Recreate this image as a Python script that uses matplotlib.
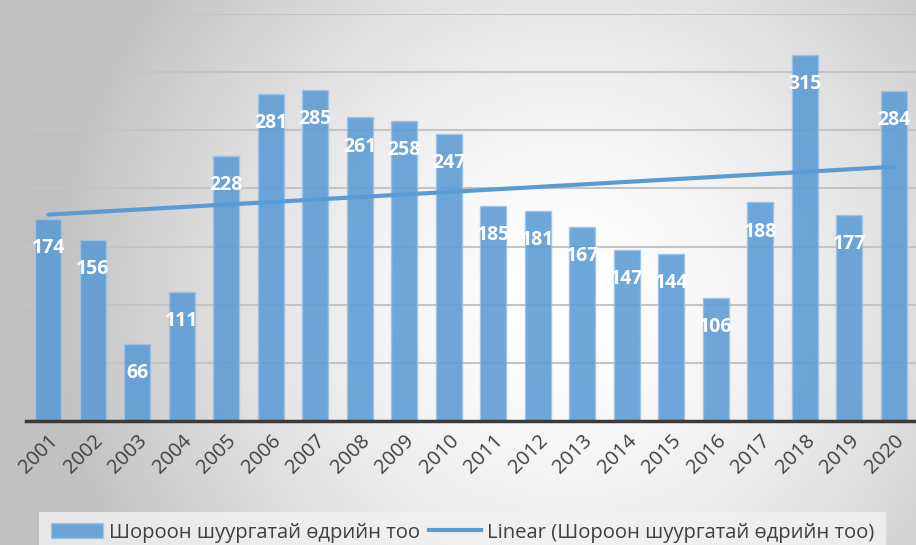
import numpy as np
import matplotlib
matplotlib.use("Agg")
import matplotlib.pyplot as plt
from matplotlib.patches import Patch
from matplotlib.lines import Line2D

years = [str(y) for y in range(2001, 2021)]
values = [174, 156, 66, 111, 228, 281, 285, 261, 258, 247,
          185, 181, 167, 147, 144, 106, 188, 315, 177, 284]
series_name = "Шороон шуургатай өдрийн тоо"
trend_name = "Linear (Шороон шуургатай өдрийн тоо)"

plt.rcParams['font.family'] = ['Open Sans', 'DejaVu Sans']

W, H = 916, 545
fig = plt.figure(figsize=(W / 100, H / 100), dpi=100)

# radial gradient background
bg = fig.add_axes([0, 0, 1, 1], zorder=-10)
yy, xx = np.mgrid[0:H, 0:W]
cx, cy = 0.62 * W, 0.55 * H
r = np.sqrt(((xx - cx) / (0.75 * W)) ** 2 + ((yy - cy) / (0.75 * W)) ** 2)
g = 1.0 - 0.24 * np.clip(r / 0.75, 0, 1) ** 1.6
bg.imshow(np.dstack([g, g, g]), extent=[0, 1, 0, 1], aspect='auto', origin='upper')
bg.axis('off')

ax = fig.add_axes([26 / W, 1 - 421 / H, (916 - 26) / W, (421 - 14) / H])
ax.set_facecolor('none')
x = np.arange(len(years))
bars = ax.bar(x, values, width=0.58, color='#5B9BD5', alpha=0.88,
              edgecolor='#9cc3e8', linewidth=1, zorder=3)

coef = np.polyfit(x, values, 1)
ax.plot(x, np.polyval(coef, x), color='#5B9BD5', lw=3, solid_capstyle='round', zorder=4)

for xi, v in zip(x, values):
    ax.annotate(str(v), (xi, v), xytext=(0, -21), textcoords='offset points',
                ha='center', va='center', color='white', fontsize=14,
                fontweight='bold', zorder=5)

ax.set_ylim(0, 350)
ax.set_xlim(-0.5, len(years) - 0.5)
ax.set_yticks(np.arange(50, 351, 50))
ax.yaxis.grid(True, color='#c4c4c4', lw=1.5, zorder=0)
ax.tick_params(axis='y', left=False, labelleft=False)
for s in ['top', 'right', 'left']:
    ax.spines[s].set_visible(False)
ax.spines['bottom'].set_color('#3a3a3a')
ax.spines['bottom'].set_linewidth(2.5)
ax.spines['bottom'].set_zorder(6)
ax.set_xticks(x)
ax.set_xticklabels(years, rotation=45, ha='right', rotation_mode='anchor',
                   fontsize=14.5, color='#404040')
ax.tick_params(axis='x', length=0, pad=7)

handles = [Patch(facecolor='#5B9BD5', edgecolor='#9cc3e8', alpha=0.88),
           Line2D([0], [0], color='#5B9BD5', lw=3)]
leg = fig.legend(handles, [series_name, trend_name], loc='lower center',
                 bbox_to_anchor=(0.505, -0.035), ncol=2, frameon=True,
                 fontsize=14.6, handlelength=2.6, handleheight=0.8,
                 columnspacing=0.4, handletextpad=0.3, fancybox=False,
                 borderpad=0.55)
leg.get_frame().set_facecolor('#f2f2f2')
leg.get_frame().set_edgecolor('none')
leg.get_frame().set_alpha(0.8)
for t in leg.get_texts():
    t.set_color('#404040')

fig.savefig('out.png', dpi=100)
